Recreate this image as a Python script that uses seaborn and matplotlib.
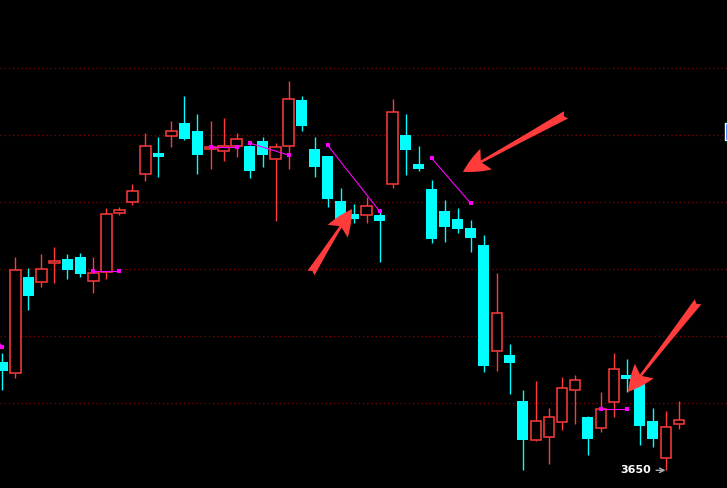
import numpy as np
import pandas as pd
import seaborn as sns
import matplotlib.pyplot as plt
from matplotlib.patches import FancyArrowPatch, Rectangle

# daily candles
opens = [3682.3, 3679.0, 3707.7, 3706.2, 3711.9, 3713.1, 3713.7, 3706.5, 3709.2, 3726.8,
         3730.1, 3738.4, 3744.7, 3749.8, 3753.7, 3751.3, 3745.9, 3745.3, 3746.8, 3746.8,
         3748.3, 3742.9, 3746.8, 3760.5, 3745.9, 3743.8, 3730.4, 3726.5, 3726.2, 3726.2,
         3735.5, 3750.1, 3741.4, 3734.0, 3727.4, 3725.0, 3722.3, 3717.3, 3685.6, 3684.4,
         3670.7, 3659.0, 3659.9, 3664.4, 3674.0, 3665.9, 3662.6, 3670.4, 3678.4, 3677.0,
         3664.7, 3653.7, 3663.8]
highs = [3685.0, 3713.7, 3710.4, 3714.6, 3716.7, 3714.6, 3714.9, 3713.7, 3728.3, 3728.6,
         3735.5, 3750.7, 3749.5, 3754.3, 3761.7, 3756.4, 3754.3, 3755.2, 3750.7, 3747.1,
         3749.5, 3747.7, 3766.2, 3761.7, 3749.5, 3743.8, 3734.3, 3729.5, 3731.6, 3727.1,
         3760.8, 3756.4, 3746.8, 3736.7, 3730.7, 3728.3, 3724.7, 3720.2, 3708.9, 3687.7,
         3674.0, 3676.7, 3668.6, 3677.9, 3678.4, 3666.2, 3673.4, 3685.0, 3683.2, 3677.0,
         3668.6, 3667.7, 3670.7]
lows = [3674.0, 3677.6, 3697.9, 3704.7, 3705.9, 3707.1, 3707.7, 3702.9, 3707.1, 3726.2,
        3729.2, 3736.4, 3737.6, 3746.5, 3748.6, 3738.4, 3739.9, 3742.3, 3743.5, 3737.3,
        3740.5, 3724.4, 3739.9, 3751.3, 3737.6, 3728.6, 3722.9, 3723.8, 3723.8, 3712.2,
        3734.3, 3738.1, 3739.3, 3717.9, 3718.2, 3720.8, 3715.2, 3679.3, 3679.6, 3672.8,
        3650.1, 3658.7, 3651.9, 3662.0, 3663.8, 3654.6, 3661.4, 3665.9, 3673.4, 3657.6,
        3657.0, 3650.0, 3662.3]
closes = [3679.6, 3709.8, 3702.0, 3710.1, 3712.5, 3709.8, 3708.6, 3708.9, 3726.5, 3727.7,
          3733.4, 3746.8, 3743.5, 3751.3, 3748.9, 3744.1, 3746.5, 3746.8, 3748.9, 3739.3,
          3744.1, 3746.5, 3760.8, 3752.8, 3740.5, 3731.0, 3723.8, 3725.0, 3728.9, 3724.4,
          3757.0, 3745.6, 3739.9, 3719.0, 3722.6, 3722.0, 3719.3, 3681.1, 3697.0, 3682.0,
          3659.0, 3664.7, 3665.9, 3674.6, 3677.0, 3659.3, 3668.3, 3680.2, 3677.3, 3663.2,
          3659.3, 3662.9, 3665.0]

# magenta indicator segments: (start idx, end idx, start price, end price)
seg_x0 = [-1, 7, 16, 19, 25, 33, 46]
seg_x1 = [0, 9, 18, 22, 29, 36, 48]
seg_y0 = [3692.0, 3709.5, 3746.6, 3747.7, 3747.1, 3743.2, 3668.3]
seg_y1 = [3686.8, 3709.5, 3746.6, 3744.1, 3727.4, 3729.8, 3668.3]

# red hand-drawn arrows: tail -> head
arrow_tail = [(23.73, 3708.9), (43.35, 3756.1), (53.5, 3700.3)]
arrow_head = [(26.88, 3728.0), (35.42, 3739.1), (48.12, 3673.4)]

grid_levels = [3670, 3690, 3710, 3730, 3750, 3770]
low_label = 3650

RED = '#ff3c3c'
CYAN = '#00ffff'
MAG = '#ff00ff'

sns.set_style('dark', {'axes.facecolor': '#000000', 'figure.facecolor': '#000000'})

df = pd.DataFrame({'open': opens, 'high': highs, 'low': lows, 'close': closes})
df['idx'] = np.arange(len(df))
up = df[df['close'] >= df['open']]
dn = df[df['close'] < df['open']]

fig = plt.figure(figsize=(7.27, 4.88), dpi=100)
ax = fig.add_axes([0, 0, 1, 1])
ax.set_facecolor('#000000')

for lvl in grid_levels:
    ax.axhline(lvl, color='#7a0000', lw=1, ls=(0, (1, 2)), zorder=0)

# down candles: filled cyan
ax.vlines(dn['idx'], dn['low'], dn['high'], color=CYAN, lw=1, zorder=2)
ax.bar(dn['idx'], dn['open'] - dn['close'], bottom=dn['close'], width=0.846,
       color=CYAN, lw=0, zorder=3)

# up candles: hollow red
ax.vlines(up['idx'], up['close'], up['high'], color=RED, lw=1, zorder=2)
ax.vlines(up['idx'], up['low'], up['open'], color=RED, lw=1, zorder=2)
ax.bar(up['idx'], up['close'] - up['open'], bottom=up['open'], width=0.77,
       facecolor='#000000', edgecolor=RED, lw=1.1, zorder=3)

for x0, x1, y0, y1 in zip(seg_x0, seg_x1, seg_y0, seg_y1):
    sns.lineplot(x=[x0, x1], y=[y0, y1], ax=ax, color=MAG, lw=0.8, marker='s',
                 markersize=3.5, markeredgewidth=0, legend=False, zorder=4)

for t, h in zip(arrow_tail, arrow_head):
    ax.add_patch(FancyArrowPatch(t, h, arrowstyle='fancy,head_length=0.95,head_width=0.85,tail_width=0.3',
                                 mutation_scale=20, color=RED, lw=0, shrinkA=0, shrinkB=0, zorder=5))

ax.annotate(str(low_label), xy=(51, low_label), xytext=(-14, 0), textcoords='offset pixels',
            ha='right', va='center', color='white', fontsize=8, fontweight='bold',
            arrowprops=dict(arrowstyle='->', color='#b0b0b0', lw=1, shrinkA=1, shrinkB=0))

# price tag cut off at right edge
ax.add_patch(Rectangle((55.58, 3748.6), 1.0, 5.1, facecolor='#1f6fff', edgecolor='white', lw=1, zorder=5))

ax.set_xlim(-0.192, 55.73)
ax.set_ylim(3644.72, 3790.39)
ax.set_xticks([])
ax.set_yticks([])
for s in ax.spines.values():
    s.set_visible(False)

fig.savefig('out.png', dpi=100, facecolor='#000000')
